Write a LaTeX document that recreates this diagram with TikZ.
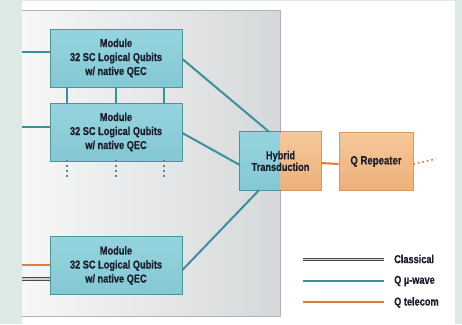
\documentclass[tikz,border=0pt]{standalone}
\usepackage{fontspec}
\setmainfont{Liberation Sans}[FakeStretch=0.8,BoldFeatures={FakeBold=0.6}]
\definecolor{bggreen}{HTML}{DDE9E4}
\definecolor{tealtop}{HTML}{95D4DE}
\definecolor{tealbot}{HTML}{84C8D3}
\definecolor{tealdraw}{HTML}{4A949E}
\definecolor{tealline}{HTML}{3D8F99}
\definecolor{ortop}{HTML}{F6C89A}
\definecolor{orbot}{HTML}{EDB07A}
\definecolor{ordraw}{HTML}{D39A66}
\definecolor{orline}{HTML}{E07B3A}
\definecolor{txt}{HTML}{1B1E2B}
\definecolor{panelL}{HTML}{F7F7F7}
\definecolor{panelR}{HTML}{D5D8DA}
\definecolor{classic}{HTML}{4A4A4A}
\definecolor{classicmid}{HTML}{D0D0D0}
\begin{document}
\begin{tikzpicture}[x=1pt,y=-1pt,
  boxtext/.style={text=txt,align=center,font=\bfseries\fontsize{11.5}{14}\selectfont},
  module/.style={boxtext,draw=tealdraw,line width=0.8pt,top color=tealtop,bottom color=tealbot,
     minimum width=132pt,minimum height=58pt,inner sep=0pt},
  orbox/.style={boxtext,font=\bfseries\fontsize{12}{13}\selectfont,draw=ordraw,line width=0.8pt,top color=ortop,bottom color=orbot,
     minimum width=74pt,minimum height=58pt,inner sep=0pt},
  qwave/.style={draw=tealline,line width=2pt},
  qlink/.style={draw=tealline,line width=2.6pt},
  qtel/.style={draw=orline,line width=2pt},
  classical/.style={draw=classic,double=classicmid,double distance=1.3pt,line width=1.1pt},
  tealdots/.style={draw=tealline,line width=2.2pt,dash pattern=on 2pt off 3pt},
  ordots/.style={draw=orline,line width=1.6pt,dash pattern=on 1.6pt off 3pt},
  legtext/.style={text=txt,anchor=west,font=\bfseries\fontsize{11.5}{12}\selectfont,inner sep=0pt}
]
\useasboundingbox (0,0) rectangle (462,324);
\fill[bggreen] (0,0) rectangle (462,324);
\fill[white] (22,1) rectangle (455,324);
\shade[left color=panelL,right color=panelR] (22,10) rectangle (280,316);
\draw[gray!60,line width=0.6pt] (22,10) -- (280,10) -- (280,316) -- (22,316);

% free ends
\coordinate (in1) at (22,52);
\coordinate (in2) at (22,127);
\coordinate (in3o) at (22,265);
\coordinate (in3c) at (22,279);
\coordinate (d1) at (67,179);
\coordinate (d2) at (116,179);
\coordinate (d3) at (164,179);
\coordinate (dotend) at (436,159);

% modules
\node[module] (m1) at (116,58) {Module\\32 SC Logical Qubits\\w/ native QEC};
\node[module] (m2) at (116,132) {Module\\32 SC Logical Qubits\\w/ native QEC};
\node[module] (m3) at (116,265.5) {Module\\32 SC Logical Qubits\\w/ native QEC};

% hybrid transduction
\node[boxtext,font=\bfseries\fontsize{11.5}{11.7}\selectfont,minimum width=81pt,minimum height=58pt,inner sep=0pt,
  path picture={
    \fill[top color=tealtop,bottom color=tealbot] (path picture bounding box.south west) rectangle (path picture bounding box.north);
    \fill[top color=ortop,bottom color=orbot] (path picture bounding box.south) rectangle (path picture bounding box.north east);
  }] (h) at (280.5,161) {Hybrid\\Transduction};
\draw[tealdraw,line width=0.8pt] (h.north) -- (h.north west) -- (h.south west) -- (h.south);
\draw[ordraw,line width=0.8pt] (h.north) -- (h.north east) -- (h.south east) -- (h.south);

% repeater
\node[orbox] (r) at (376,161.5) {Q Repeater};

% connectors
\draw[qwave] (in1) -- (in1 -| m1.west);
\draw[qwave] (in2) -- (in2 -| m2.west);
\draw[qtel] (in3o) -- (in3o -| m3.west);
\draw[classical] (in3c) -- (in3c -| m3.west);

\foreach \dx in {-49,0,48}{
  \draw[qlink] ([xshift=\dx pt]m1.south) -- ([xshift=\dx pt]m2.north);
}
\draw[tealdots] ([yshift=1.5pt]m2.south -| d1) -- (d1);
\draw[tealdots] ([yshift=1.5pt]m2.south -| d2) -- (d2);
\draw[tealdots] ([yshift=1.5pt]m2.south -| d3) -- (d3);

\draw[qwave] ([yshift=-1pt]m1.east) -- ([xshift=-11.5pt]h.north);
\draw[qwave] ([yshift=-1pt]m2.east) -- ([yshift=-4pt]h.west);
\draw[qwave] ([yshift=-4.5pt]m3.east) -- ([xshift=-21.5pt]h.south);

\draw[qtel] ([yshift=-2pt]h.east) -- ([yshift=-2.5pt]r.west);
\draw[ordots] ([yshift=-2.5pt]r.east) -- (dotend);

% legend
\coordinate (la) at (303,259.5);
\coordinate (lb) at (384,259.5);
\coordinate (lc) at (303,281);
\coordinate (ld) at (384,281);
\coordinate (le) at (303,302);
\coordinate (lf) at (384,302);
\draw[classical] (la) -- (lb);
\draw[qwave] (lc) -- (ld);
\draw[qtel] (le) -- (lf);
\node[legtext] (t1) at (394,259) {Classical};
\node[legtext] (t2) at (394,281) {Q µ-wave};
\node[legtext] (t3) at (394,302.5) {Q telecom};
\end{tikzpicture}
\end{document}
